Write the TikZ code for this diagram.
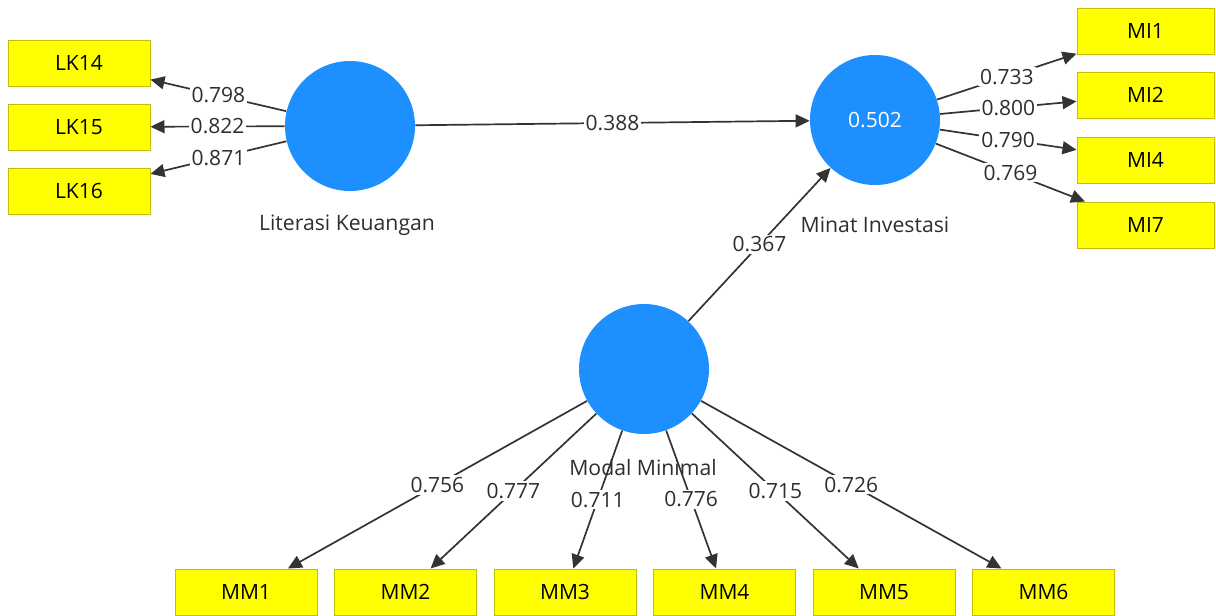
\documentclass[tikz,border=0pt]{standalone}
\usepackage{fontspec}
\setmainfont{Open Sans}
\usetikzlibrary{arrows.meta}
\definecolor{lvblue}{HTML}{1E8FFF}
\definecolor{indyellow}{HTML}{FFFF00}
\definecolor{indborder}{HTML}{C2BE00}
\definecolor{linkgray}{HTML}{333333}
\definecolor{textgray}{HTML}{2E2E2E}

\begin{document}
\begin{tikzpicture}[x=0.5pt,y=-0.5pt]
\tikzstyle{box}=[rectangle,draw=indborder,fill=indyellow,line width=0.5pt,minimum width=71pt,minimum height=23pt,inner sep=0pt,font=\fontsize{10.5}{12}\selectfont]
\tikzstyle{latent}=[circle,fill=lvblue,minimum size=65pt,inner sep=0pt,text=white,font=\fontsize{10.5}{12}\selectfont]
\tikzstyle{lvname}=[text=textgray,font=\fontsize{10.6}{12}\selectfont]
\tikzstyle{link}=[draw=linkgray,line width=0.85pt,-{Triangle[length=7pt,width=6.5pt]}]
\tikzstyle{coef}=[fill=white,inner sep=1pt,text=textgray,font=\fontsize{10.5}{12}\selectfont]
\useasboundingbox (0,0) rectangle (1216,616);

% latent variables
\node[latent] at(350, 126) (lk) {};
\node[latent] at(875, 120) (mi) {0.502};
\node[latent] at(644, 369) (mm) {};
\node[lvname] at(347, 225) (lkname) {Literasi Keuangan};
\node[lvname] at(875, 225) (miname) {Minat Investasi};
\node[lvname] at(643, 468) (mmname) {Modal Minimal};

% indicators
\node[box] at(79, 63) (lk14) {LK14};
\node[box] at(79, 127) (lk15) {LK15};
\node[box] at(79, 191) (lk16) {LK16};
\node[box,minimum width=68.5pt] at(1145.5, 31) (mi1) {MI1};
\node[box,minimum width=68.5pt] at(1145.5, 95) (mi2) {MI2};
\node[box,minimum width=68.5pt] at(1145.5, 160) (mi4) {MI4};
\node[box,minimum width=68.5pt] at(1145.5, 225) (mi7) {MI7};
\node[box] at(246, 592) (mm1) {MM1};
\node[box] at(405.5, 592) (mm2) {MM2};
\node[box] at(565, 592) (mm3) {MM3};
\node[box] at(724.5, 592) (mm4) {MM4};
\node[box] at(884, 592) (mm5) {MM5};
\node[box] at(1043.5, 592) (mm6) {MM6};

% inner model
\draw[link] (lk) -- node[coef] {0.388} (mi);
\draw[link] (mm) -- node[coef] {0.367} (mi);

% outer model
\draw[link] (lk) -- node[coef] {0.798} (lk14);
\draw[link] (lk) -- node[coef] {0.822} (lk15);
\draw[link] (lk) -- node[coef] {0.871} (lk16);
\draw[link] (mi) -- node[coef] {0.733} (mi1);
\draw[link] (mi) -- node[coef] {0.800} (mi2);
\draw[link] (mi) -- node[coef] {0.790} (mi4);
\draw[link] (mi) -- node[coef] {0.769} (mi7);
\draw[link] (mm) -- node[coef] {0.756} (mm1);
\draw[link] (mm) -- node[coef] {0.777} (mm2);
\draw[link] (mm) -- node[coef] {0.711} (mm3);
\draw[link] (mm) -- node[coef] {0.776} (mm4);
\draw[link] (mm) -- node[coef] {0.715} (mm5);
\draw[link] (mm) -- node[coef] {0.726} (mm6);
\end{tikzpicture}
\end{document}
